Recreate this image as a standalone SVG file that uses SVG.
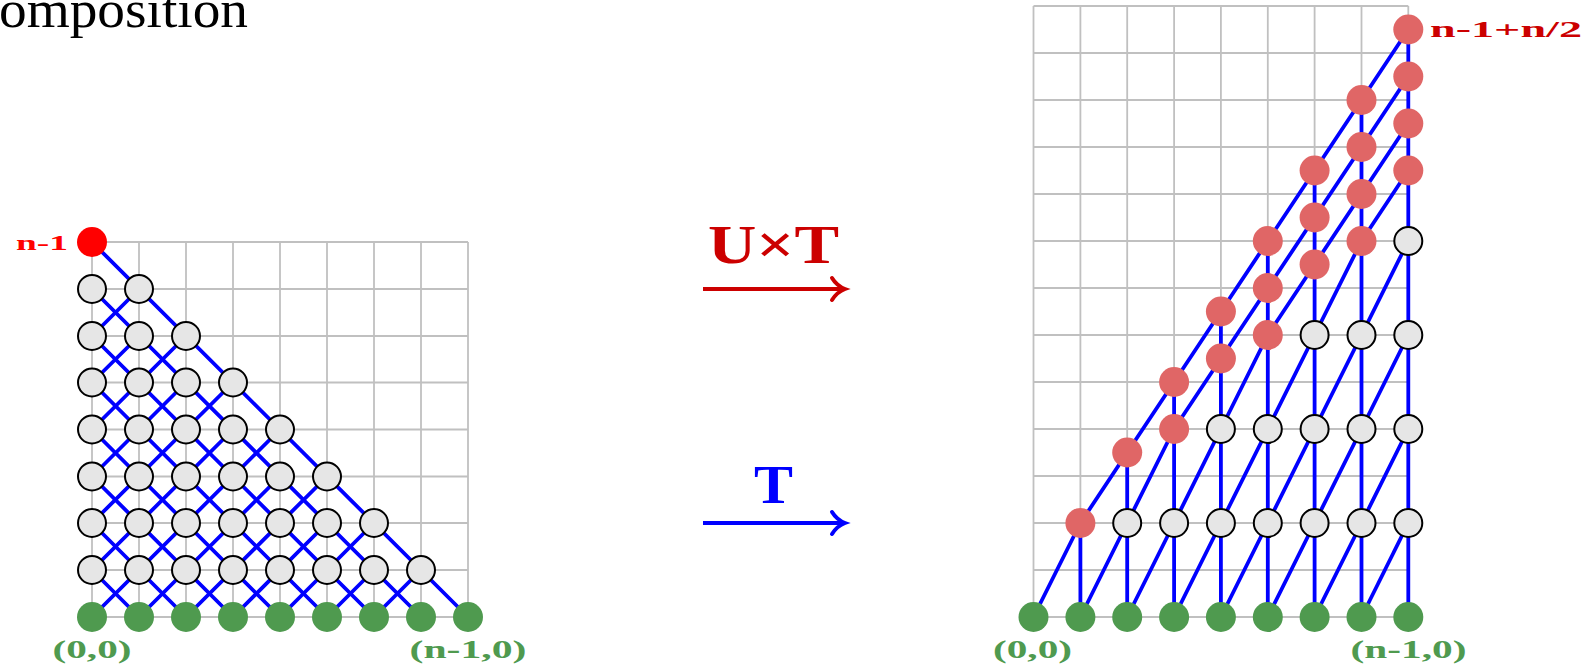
<svg xmlns="http://www.w3.org/2000/svg" width="1592" height="669" viewBox="0 0 1592 669">
<style>
.grid{stroke:#c0c0c0;stroke-width:1.8;fill:none}
.edge{stroke:#0000ff;stroke-width:3.8;fill:none;stroke-linejoin:round}
.g{fill:#e6e6e6;stroke:#000;stroke-width:2}
.gr{fill:#4f9a4f}
.pk{fill:#e06666}
.lbl{font-family:"Liberation Serif",serif;font-weight:bold}
.glbl{fill:#4f9a4f;font-size:25px}
</style>
<rect width="1592" height="669" fill="#fff"/>
<text x="-1" y="27" font-family="Liberation Serif, serif" font-size="53" textLength="249" lengthAdjust="spacingAndGlyphs" fill="#000">omposition</text>

<g id="grid-left" class="grid">
<path d="M92,242V617M139,242V617M186,242V617M233,242V617M280,242V617M327,242V617M374,242V617M421,242V617M468,242V617M92,242H468M92,289H468M92,336H468M92,382.5H468M92,429.5H468M92,476.5H468M92,523H468M92,570H468M92,617H468"/>
</g>
<g id="grid-right" class="grid">
<path d="M1033.5,6V617M1080.4,6V617M1127.2,6V617M1174.1,6V617M1220.9,6V617M1267.8,6V617M1314.6,6V617M1361.5,6V617M1408.3,6V617M1033.5,6H1408.3M1033.5,53H1408.3M1033.5,100H1408.3M1033.5,147H1408.3M1033.5,194H1408.3M1033.5,241H1408.3M1033.5,288H1408.3M1033.5,335H1408.3M1033.5,382H1408.3M1033.5,429H1408.3M1033.5,476H1408.3M1033.5,523H1408.3M1033.5,570H1408.3M1033.5,617H1408.3"/>
</g>

<g id="connectors">
<g id="left-edges" class="edge">
<path d="M92,570L139,617M92,523L186,617M92,476.5L233,617M92,429.5L280,617M92,382.5L327,617M92,336L374,617M92,289L421,617M92,242L468,617"/>
<path d="M92,617L280,429.5M139,617L280,476.5M186,617L327,476.5M233,617L327,523M280,617L374,523M327,617L374,570M374,617L421,570M92,570L233,429.5M92,523L233,382.5M92,476.5L186,382.5M92,429.5L186,336M92,382.5L139,336M92,336L139,289"/>
</g>
<g id="right-edges" class="edge">
<polyline points="1033.5,617 1080.4,523 1127.2,452.5 1174.1,382 1220.9,311.5 1267.8,241 1314.6,170.5 1361.5,100 1408.3,29.5"/>
<polyline points="1080.4,617 1127.2,523 1174.1,429 1220.9,358.5 1267.8,288 1314.6,217.5 1361.5,147 1408.3,76.5"/>
<polyline points="1127.2,617 1174.1,523 1220.9,429 1267.8,335 1314.6,264.5 1361.5,194 1408.3,123.5"/>
<polyline points="1174.1,617 1220.9,523 1267.8,429 1314.6,335 1361.5,241 1408.3,170.5"/>
<polyline points="1220.9,617 1267.8,523 1314.6,429 1361.5,335 1408.3,241"/>
<polyline points="1267.8,617 1314.6,523 1361.5,429 1408.3,335"/>
<polyline points="1314.6,617 1361.5,523 1408.3,429"/>
<polyline points="1361.5,617 1408.3,523"/>
<path d="M1080.4,617V523M1127.2,617V452.5M1174.1,617V382M1220.9,617V311.5M1267.8,617V241M1314.6,617V170.5M1361.5,617V100M1408.3,617V29.5"/>
</g>
<g id="arrow-UT">
<path d="M703,289H843" stroke="#cc0000" stroke-width="4" fill="none"/>
<path d="M832,278Q837,286 845,289Q837,292 832,300" stroke="#cc0000" stroke-width="4" fill="none" stroke-linecap="round"/>
</g>
<g id="arrow-T">
<path d="M703,523H843" stroke="#0000ff" stroke-width="4" fill="none"/>
<path d="M832,512Q837,520 845,523Q837,526 832,534" stroke="#0000ff" stroke-width="4" fill="none" stroke-linecap="round"/>
</g>
</g>

<g id="arrow-labels">
<text class="lbl" x="708" y="263" font-size="54" fill="#cc0000" textLength="131" lengthAdjust="spacingAndGlyphs">U×T</text>
<text class="lbl" x="754" y="503" font-size="54" fill="#0000ff" textLength="39" lengthAdjust="spacingAndGlyphs">T</text>
</g>

<g id="left-nodes">
<g id="L-0-8"><circle cx="92" cy="242" r="15" fill="#ff0000"/></g>
<g id="L-0-7"><circle class="g" cx="92" cy="289" r="14"/></g>
<g id="L-1-7"><circle class="g" cx="139" cy="289" r="14"/></g>
<g id="L-0-6"><circle class="g" cx="92" cy="336" r="14"/></g>
<g id="L-1-6"><circle class="g" cx="139" cy="336" r="14"/></g>
<g id="L-2-6"><circle class="g" cx="186" cy="336" r="14"/></g>
<g id="L-0-5"><circle class="g" cx="92" cy="382.5" r="14"/></g>
<g id="L-1-5"><circle class="g" cx="139" cy="382.5" r="14"/></g>
<g id="L-2-5"><circle class="g" cx="186" cy="382.5" r="14"/></g>
<g id="L-3-5"><circle class="g" cx="233" cy="382.5" r="14"/></g>
<g id="L-0-4"><circle class="g" cx="92" cy="429.5" r="14"/></g>
<g id="L-1-4"><circle class="g" cx="139" cy="429.5" r="14"/></g>
<g id="L-2-4"><circle class="g" cx="186" cy="429.5" r="14"/></g>
<g id="L-3-4"><circle class="g" cx="233" cy="429.5" r="14"/></g>
<g id="L-4-4"><circle class="g" cx="280" cy="429.5" r="14"/></g>
<g id="L-0-3"><circle class="g" cx="92" cy="476.5" r="14"/></g>
<g id="L-1-3"><circle class="g" cx="139" cy="476.5" r="14"/></g>
<g id="L-2-3"><circle class="g" cx="186" cy="476.5" r="14"/></g>
<g id="L-3-3"><circle class="g" cx="233" cy="476.5" r="14"/></g>
<g id="L-4-3"><circle class="g" cx="280" cy="476.5" r="14"/></g>
<g id="L-5-3"><circle class="g" cx="327" cy="476.5" r="14"/></g>
<g id="L-0-2"><circle class="g" cx="92" cy="523" r="14"/></g>
<g id="L-1-2"><circle class="g" cx="139" cy="523" r="14"/></g>
<g id="L-2-2"><circle class="g" cx="186" cy="523" r="14"/></g>
<g id="L-3-2"><circle class="g" cx="233" cy="523" r="14"/></g>
<g id="L-4-2"><circle class="g" cx="280" cy="523" r="14"/></g>
<g id="L-5-2"><circle class="g" cx="327" cy="523" r="14"/></g>
<g id="L-6-2"><circle class="g" cx="374" cy="523" r="14"/></g>
<g id="L-0-1"><circle class="g" cx="92" cy="570" r="14"/></g>
<g id="L-1-1"><circle class="g" cx="139" cy="570" r="14"/></g>
<g id="L-2-1"><circle class="g" cx="186" cy="570" r="14"/></g>
<g id="L-3-1"><circle class="g" cx="233" cy="570" r="14"/></g>
<g id="L-4-1"><circle class="g" cx="280" cy="570" r="14"/></g>
<g id="L-5-1"><circle class="g" cx="327" cy="570" r="14"/></g>
<g id="L-6-1"><circle class="g" cx="374" cy="570" r="14"/></g>
<g id="L-7-1"><circle class="g" cx="421" cy="570" r="14"/></g>
<g id="L-0-0"><circle class="gr" cx="92" cy="617" r="15"/></g>
<g id="L-1-0"><circle class="gr" cx="139" cy="617" r="15"/></g>
<g id="L-2-0"><circle class="gr" cx="186" cy="617" r="15"/></g>
<g id="L-3-0"><circle class="gr" cx="233" cy="617" r="15"/></g>
<g id="L-4-0"><circle class="gr" cx="280" cy="617" r="15"/></g>
<g id="L-5-0"><circle class="gr" cx="327" cy="617" r="15"/></g>
<g id="L-6-0"><circle class="gr" cx="374" cy="617" r="15"/></g>
<g id="L-7-0"><circle class="gr" cx="421" cy="617" r="15"/></g>
<g id="L-8-0"><circle class="gr" cx="468" cy="617" r="15"/></g>
</g>

<g id="right-nodes">
<g id="R-0-0"><circle class="gr" cx="1033.5" cy="617" r="15"/></g>
<g id="R-1-0"><circle class="gr" cx="1080.4" cy="617" r="15"/></g>
<g id="R-2-0"><circle class="gr" cx="1127.2" cy="617" r="15"/></g>
<g id="R-3-0"><circle class="gr" cx="1174.1" cy="617" r="15"/></g>
<g id="R-4-0"><circle class="gr" cx="1220.9" cy="617" r="15"/></g>
<g id="R-5-0"><circle class="gr" cx="1267.8" cy="617" r="15"/></g>
<g id="R-6-0"><circle class="gr" cx="1314.6" cy="617" r="15"/></g>
<g id="R-7-0"><circle class="gr" cx="1361.5" cy="617" r="15"/></g>
<g id="R-8-0"><circle class="gr" cx="1408.3" cy="617" r="15"/></g>
<g id="R-2-2"><circle class="g" cx="1127.2" cy="523" r="14"/></g>
<g id="R-3-2"><circle class="g" cx="1174.1" cy="523" r="14"/></g>
<g id="R-4-2"><circle class="g" cx="1220.9" cy="523" r="14"/></g>
<g id="R-5-2"><circle class="g" cx="1267.8" cy="523" r="14"/></g>
<g id="R-6-2"><circle class="g" cx="1314.6" cy="523" r="14"/></g>
<g id="R-7-2"><circle class="g" cx="1361.5" cy="523" r="14"/></g>
<g id="R-8-2"><circle class="g" cx="1408.3" cy="523" r="14"/></g>
<g id="R-4-4"><circle class="g" cx="1220.9" cy="429" r="14"/></g>
<g id="R-5-4"><circle class="g" cx="1267.8" cy="429" r="14"/></g>
<g id="R-6-4"><circle class="g" cx="1314.6" cy="429" r="14"/></g>
<g id="R-7-4"><circle class="g" cx="1361.5" cy="429" r="14"/></g>
<g id="R-8-4"><circle class="g" cx="1408.3" cy="429" r="14"/></g>
<g id="R-6-6"><circle class="g" cx="1314.6" cy="335" r="14"/></g>
<g id="R-7-6"><circle class="g" cx="1361.5" cy="335" r="14"/></g>
<g id="R-8-6"><circle class="g" cx="1408.3" cy="335" r="14"/></g>
<g id="R-8-8"><circle class="g" cx="1408.3" cy="241" r="14"/></g>
<g id="R-1-2"><circle class="pk" cx="1080.4" cy="523" r="15"/></g>
<g id="R-2-3.5"><circle class="pk" cx="1127.2" cy="452.5" r="15"/></g>
<g id="R-3-4"><circle class="pk" cx="1174.1" cy="429" r="15"/></g>
<g id="R-3-5"><circle class="pk" cx="1174.1" cy="382" r="15"/></g>
<g id="R-4-5.5"><circle class="pk" cx="1220.9" cy="358.5" r="15"/></g>
<g id="R-4-6.5"><circle class="pk" cx="1220.9" cy="311.5" r="15"/></g>
<g id="R-5-6"><circle class="pk" cx="1267.8" cy="335" r="15"/></g>
<g id="R-5-7"><circle class="pk" cx="1267.8" cy="288" r="15"/></g>
<g id="R-5-8"><circle class="pk" cx="1267.8" cy="241" r="15"/></g>
<g id="R-6-7.5"><circle class="pk" cx="1314.6" cy="264.5" r="15"/></g>
<g id="R-6-8.5"><circle class="pk" cx="1314.6" cy="217.5" r="15"/></g>
<g id="R-6-9.5"><circle class="pk" cx="1314.6" cy="170.5" r="15"/></g>
<g id="R-7-8"><circle class="pk" cx="1361.5" cy="241" r="15"/></g>
<g id="R-7-9"><circle class="pk" cx="1361.5" cy="194" r="15"/></g>
<g id="R-7-10"><circle class="pk" cx="1361.5" cy="147" r="15"/></g>
<g id="R-7-11"><circle class="pk" cx="1361.5" cy="100" r="15"/></g>
<g id="R-8-9.5"><circle class="pk" cx="1408.3" cy="170.5" r="15"/></g>
<g id="R-8-10.5"><circle class="pk" cx="1408.3" cy="123.5" r="15"/></g>
<g id="R-8-11.5"><circle class="pk" cx="1408.3" cy="76.5" r="15"/></g>
<g id="R-8-12.5"><circle class="pk" cx="1408.3" cy="29.5" r="15"/></g>
</g>

<g id="labels">
<text class="lbl" x="16" y="250" font-size="21" fill="#ff0000" textLength="52" lengthAdjust="spacingAndGlyphs">n-1</text>
<text class="lbl" x="1430" y="37" font-size="24" fill="#cc0000" textLength="152" lengthAdjust="spacingAndGlyphs">n-1+n/2</text>
<text class="lbl glbl" x="52.5" y="658" textLength="79" lengthAdjust="spacingAndGlyphs">(0,0)</text>
<text class="lbl glbl" x="409.5" y="658" textLength="117" lengthAdjust="spacingAndGlyphs">(n-1,0)</text>
<text class="lbl glbl" x="993" y="658" textLength="79" lengthAdjust="spacingAndGlyphs">(0,0)</text>
<text class="lbl glbl" x="1350.5" y="658" textLength="116" lengthAdjust="spacingAndGlyphs">(n-1,0)</text>
</g>
</svg>
